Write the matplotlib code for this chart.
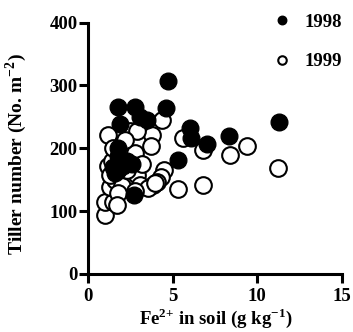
"""Tiller number vs soil Fe2+ scatter, two seasons."""

import matplotlib
matplotlib.use("Agg")
import matplotlib.pyplot as plt

# 1998 (filled)
fe_1998 = [4.7, 1.8, 2.8, 4.6, 3.1, 3.5, 1.9, 6.0, 6.1, 7.0, 8.3, 11.3, 5.3,
           1.8, 1.8, 1.8, 2.1, 2.6, 1.6, 2.7, 1.5, 2.3]
tiller_1998 = [307, 265, 265, 264, 250, 245, 238, 232, 216, 207, 220, 241, 181,
               200, 188, 165, 172, 175, 160, 126, 170, 180]

# 1999 (open)
fe_1999 = [4.4, 5.6, 3.8, 3.75, 6.8, 6.8, 5.3, 4.5, 4.3, 4.1, 3.85, 8.4, 9.4,
           11.2, 1.2, 2.5, 2.9, 2.8, 2.2, 1.0, 1.0, 1.5, 1.3, 1.6, 2.1, 2.5,
           2.9, 3.1, 3.55, 3.95, 1.2, 1.3, 1.4, 2.0, 1.8, 2.3, 3.2, 2.8, 1.5, 1.7]
tiller_1999 = [245, 217, 221, 203, 197, 142, 135, 166, 155, 147, 142, 190, 203,
               169, 221, 227, 227, 192, 213, 93, 115, 115, 139, 150, 150, 152,
               158, 142, 136, 144, 171, 158, 180, 140, 128, 165, 175, 132, 200, 110]

x_ticks = [0, 5, 10, 15]
y_ticks = [0, 100, 200, 300, 400]

plt.rcParams["font.family"] = "Liberation Serif"
plt.rcParams["font.weight"] = "bold"
plt.rcParams["axes.labelweight"] = "bold"
plt.rcParams["mathtext.fontset"] = "custom"
plt.rcParams["mathtext.rm"] = "Liberation Serif:bold"
plt.rcParams["mathtext.bf"] = "Liberation Serif:bold"

fig = plt.figure(figsize=(3.53, 3.32), dpi=100)
ax = fig.add_axes([0.249, 0.175, 0.72, 0.757])

ax.plot(fe_1999, tiller_1999, "o", ms=12, mfc="white", mec="black", mew=1.5,
        label="1999", zorder=2)
ax.plot(fe_1998, tiller_1998, "o", ms=12, mfc="black", mec="black",
        label="1998", zorder=3)

ax.set_xlim(0, 15)
ax.set_ylim(0, 400)
ax.set_xticks(x_ticks)
ax.set_yticks(y_ticks)
ax.tick_params(width=2.2, length=6.5, labelsize=13.5)
ax.tick_params(axis="x", pad=4)
ax.tick_params(axis="y", pad=1)
for side in ("top", "right"):
    ax.spines[side].set_visible(False)
for side in ("left", "bottom"):
    ax.spines[side].set_linewidth(2.2)

ax.set_xlabel(r"Fe$^{2{+}}$ in soil (g kg$^{-1}$)", fontsize=13.5)
ax.set_ylabel(r"Tiller number (No. m$^{-2}$)", fontsize=14)
ax.xaxis.set_label_coords(0.502, -0.130)
ax.yaxis.set_label_coords(-0.23, 0.475)

handles, labels = ax.get_legend_handles_labels()
ax.legend(handles[::-1], labels[::-1], loc="upper left", frameon=False,
          markerscale=0.51, fontsize=13.5, labelspacing=1.2, handletextpad=0.69,
          handlelength=1.0, borderpad=0.4,
          bbox_to_anchor=(0.725, 1.01), bbox_transform=fig.transFigure)

fig.savefig("out.png", dpi=100)
